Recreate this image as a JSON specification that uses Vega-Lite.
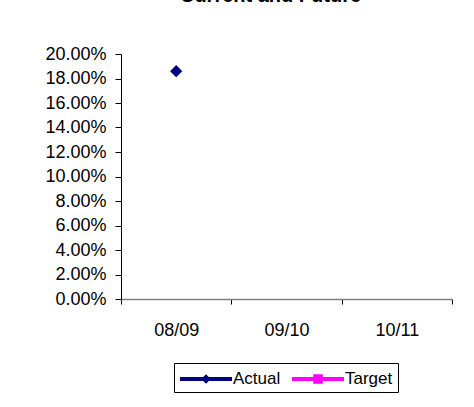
{
  "$schema": "https://vega.github.io/schema/vega-lite/v6.json",
  "autosize": {"type": "none"},
  "width": 331,
  "height": 245,
  "padding": {"left": 121, "top": 54, "right": 22, "bottom": 108},
  "background": "white",
  "config": {
    "view": {"stroke": null},
    "font": "Liberation Sans"
  },
  "title": {
    "text": "Current and Future",
    "fontSize": 20,
    "fontWeight": "bold",
    "font": "Liberation Sans",
    "color": "black",
    "offset": 39,
    "dx": -16,
    "anchor": "middle"
  },
  "data": {
    "values": [
      {"year": "08/09", "series": "Actual", "value": 0.186},
      {"year": "09/10", "series": "Actual", "value": null},
      {"year": "10/11", "series": "Actual", "value": null}
    ]
  },
  "encoding": {
    "x": {
      "field": "year", "type": "ordinal",
      "scale": {"domain": ["08/09", "09/10", "10/11"], "paddingInner": 0, "paddingOuter": 0},
      "axis": {
        "title": null, "labelAngle": 0, "labelFontSize": 18, "labelColor": "black",
        "domainColor": "#808080", "domainWidth": 1.5, "tickColor": "black", "tickSize": 5,
        "tickBand": "extent", "labelPadding": 17, "grid": false
      }
    },
    "y": {
      "field": "value", "type": "quantitative",
      "scale": {"domain": [0, 0.2], "nice": false, "zero": true},
      "axis": {
        "title": null, "format": ".2%", "values": [0, 0.02, 0.04, 0.06, 0.08, 0.1, 0.12, 0.14, 0.16, 0.18, 0.2],
        "labelFontSize": 18, "labelColor": "black", "domainColor": "black", "tickColor": "black",
        "tickSize": 6, "labelPadding": 9, "grid": false, "labelOverlap": false
      }
    }
  },
  "layer": [
    {
      "mark": {"type": "point", "filled": true, "shape": "diamond", "size": 150, "opacity": 1, "color": "#000080"}
    },
    {
      "transform": [{"filter": "datum.value < 0"}],
      "mark": {"type": "point", "filled": true, "opacity": 1},
      "encoding": {
        "color": {
          "field": "series", "type": "nominal",
          "scale": {"domain": ["Actual", "Target"], "range": ["#000080", "#FF00FF"]},
          "legend": {
            "title": null, "orient": "none", "legendX": 53, "legendY": 309, "direction": "horizontal",
            "labelFontSize": 17, "labelColor": "black", "strokeColor": "black",
            "padding": 5, "symbolSize": 400, "symbolOffset": 16, "columnPadding": 10, "labelOffset": 16
          }
        },
        "shape": {
          "field": "series", "type": "nominal",
          "scale": {"domain": ["Actual", "Target"], "range": [
            "M-2.6,-0.2H2.6V0.2H-2.6Z M0,-0.48L0.48,0L0,0.48L-0.48,0Z",
            "M-2.6,-0.2H2.6V0.2H-2.6Z M-0.48,-0.48H0.48V0.48H-0.48Z"
          ]},
          "legend": {
            "title": null, "orient": "none", "legendX": 53, "legendY": 309, "direction": "horizontal",
            "labelFontSize": 17, "labelColor": "black", "strokeColor": "black",
            "padding": 5, "symbolSize": 400, "symbolOffset": 16, "columnPadding": 10, "labelOffset": 16
          }
        }
      }
    }
  ]
}
